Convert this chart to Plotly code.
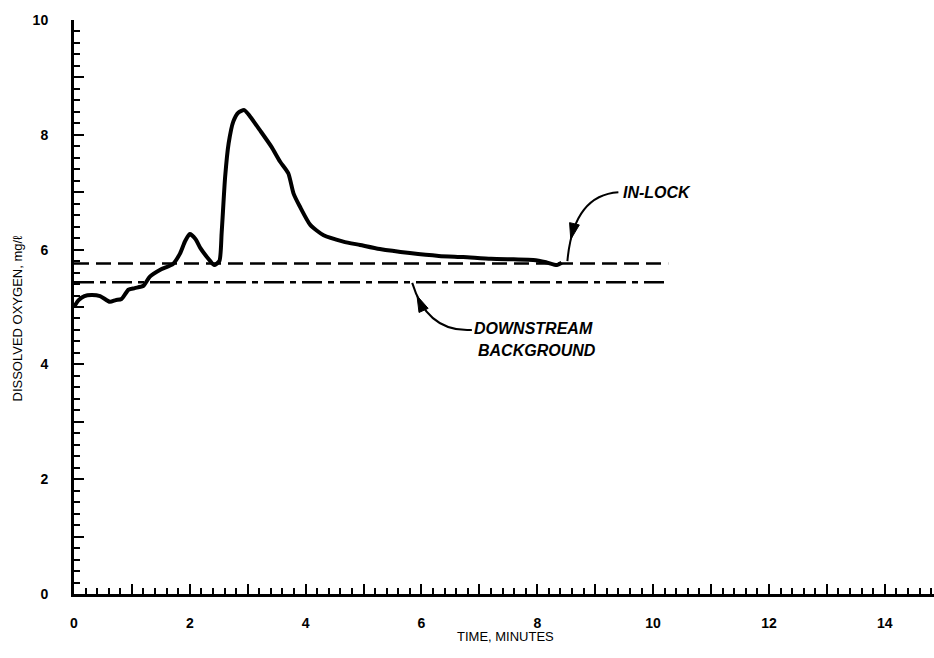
import plotly.graph_objects as go

# Dissolved oxygen record (minutes, mg/l)
time_min = [0.0, 0.08, 0.18, 0.3, 0.45, 0.62, 0.72, 0.82, 0.94, 1.05, 1.2, 1.31,
            1.49, 1.71, 1.83, 1.92, 2.0, 2.1, 2.18, 2.32, 2.42, 2.51, 2.55, 2.61,
            2.67, 2.75, 2.84, 2.94, 3.04, 3.21, 3.41, 3.56, 3.70, 3.79, 3.90, 4.08,
            4.31, 4.65, 4.94, 5.28, 5.80, 6.30, 6.72, 7.20, 7.59, 7.93, 8.15, 8.34,
            8.42]
do_mgl = [5.0, 5.12, 5.19, 5.21, 5.19, 5.09, 5.12, 5.14, 5.30, 5.33, 5.37, 5.53,
          5.65, 5.75, 5.93, 6.15, 6.27, 6.18, 6.03, 5.84, 5.73, 5.80, 6.30, 7.27,
          7.85, 8.23, 8.39, 8.43, 8.32, 8.08, 7.79, 7.53, 7.33, 6.98, 6.75, 6.43,
          6.25, 6.14, 6.08, 6.01, 5.94, 5.89, 5.87, 5.84, 5.83, 5.82, 5.78, 5.73,
          5.77]

# Reference levels
in_lock_level = 5.76
background_level = 5.43
level_span = [0.0, 10.26]

x_range = [0, 14.85]
y_range = [0, 10]
x_ticks = list(range(0, 15))
x_tick_text = [str(v) if v % 2 == 0 else "" for v in x_ticks]
y_ticks = list(range(0, 11))
y_tick_text = [str(v) if v % 2 == 0 else "" for v in y_ticks]

W, H = 934, 658
M_L, M_R, M_T, M_B = 74, 0, 20, 64
PX_X = (W - M_L - M_R) / (x_range[1] - x_range[0])
PX_Y = (H - M_T - M_B) / (y_range[1] - y_range[0])


def curved_arrow(p0, c, p2, t_head, length=16, half=5):
    """Quadratic leader line with a filled arrowhead part-way along it."""
    curve = f"M {p0[0]},{p0[1]} Q {c[0]},{c[1]} {p2[0]},{p2[1]}"
    t = t_head
    bx = (1 - t) ** 2 * p0[0] + 2 * t * (1 - t) * c[0] + t ** 2 * p2[0]
    by = (1 - t) ** 2 * p0[1] + 2 * t * (1 - t) * c[1] + t ** 2 * p2[1]
    dx = (2 * (1 - t) * (c[0] - p0[0]) + 2 * t * (p2[0] - c[0])) * PX_X
    dy = (2 * (1 - t) * (c[1] - p0[1]) + 2 * t * (p2[1] - c[1])) * PX_Y
    n = (dx ** 2 + dy ** 2) ** 0.5
    ux, uy = dx / n, dy / n
    cx, cy = -length * ux, -length * uy
    px, py = -uy * half, ux * half
    pts = [(0, 0), (cx + px, cy + py), (cx - px, cy - py)]
    head = "M " + " L ".join(f"{bx + a / PX_X},{by + b / PX_Y}" for a, b in pts) + " Z"
    line = dict(type="path", xref="x", yref="y", path=curve,
                line=dict(color="black", width=2))
    tri = dict(type="path", xref="x", yref="y", path=head,
               fillcolor="black", line=dict(color="black", width=1))
    return [line, tri]


fig = go.Figure()

fig.add_trace(go.Scatter(
    x=level_span, y=[in_lock_level] * 2, mode="lines",
    line=dict(color="black", width=2.5, dash="15px,7px"),
    showlegend=False, hoverinfo="skip"))
fig.add_trace(go.Scatter(
    x=level_span, y=[background_level] * 2, mode="lines",
    line=dict(color="black", width=2.5, dash="20px,6px,6px,6px"),
    showlegend=False, hoverinfo="skip"))
fig.add_trace(go.Scatter(
    x=time_min, y=do_mgl, mode="lines",
    line=dict(color="black", width=4, shape="spline", smoothing=0.6),
    showlegend=False))

shapes = []
shapes += curved_arrow((9.40, 7.00), (8.62, 6.95), (8.52, 5.80), 0.82)
shapes += curved_arrow((6.87, 4.60), (6.10, 4.55), (5.84, 5.42), 0.86)

label_font = dict(family="Liberation Sans, Arial, sans-serif", size=16, color="black")
annotations = [
    dict(x=9.44, y=7.0, xref="x", yref="y", text="<b><i>IN-LOCK</i></b>",
         showarrow=False, xanchor="left", yanchor="middle", font=label_font),
    dict(x=6.88, y=4.63, xref="x", yref="y", text="<b><i>DOWNSTREAM</i></b>",
         showarrow=False, xanchor="left", yanchor="middle", font=label_font),
    dict(x=6.95, y=4.25, xref="x", yref="y", text="<b><i>BACKGROUND</i></b>",
         showarrow=False, xanchor="left", yanchor="middle", font=label_font),
    dict(x=7.45, y=0, xref="x", yref="paper", yshift=-42, text="TIME, MINUTES",
         showarrow=False, xanchor="center", yanchor="middle",
         font=dict(family="Liberation Sans, Arial, sans-serif", size=13, color="black")),
    dict(x=0, y=0.48, xref="paper", yref="paper", xshift=-57, text="DISSOLVED OXYGEN, mg/ℓ",
         textangle=-90, showarrow=False, xanchor="center", yanchor="middle",
         font=dict(family="Liberation Sans, Arial, sans-serif", size=13, color="black")),
]

tick_font = dict(family="Liberation Sans, Arial, sans-serif", size=14, color="black")
axis_common = dict(
    showline=True, linecolor="black", linewidth=3, showgrid=False, zeroline=False,
    ticks="inside", ticklen=10, tickwidth=2, tickcolor="black", tickfont=tick_font,
    tickmode="array", fixedrange=True,
    minor=dict(ticks="inside", ticklen=6, tickwidth=2, tickcolor="black", dtick=0.2,
               tick0=0, showgrid=False),
)

fig.update_layout(
    width=W, height=H,
    margin=dict(l=M_L, r=M_R, t=M_T, b=M_B),
    paper_bgcolor="white", plot_bgcolor="white",
    xaxis=dict(range=x_range, tickvals=x_ticks,
               ticktext=[f"<b>{t}</b>" if t else "" for t in x_tick_text],
               ticklabelstandoff=14, **axis_common),
    yaxis=dict(range=y_range, tickvals=y_ticks,
               ticktext=[f"<b>{t}</b>" if t else "" for t in y_tick_text],
               ticklabelstandoff=20, **axis_common),
    shapes=shapes,
    annotations=annotations,
)

fig.write_html("out.html")
